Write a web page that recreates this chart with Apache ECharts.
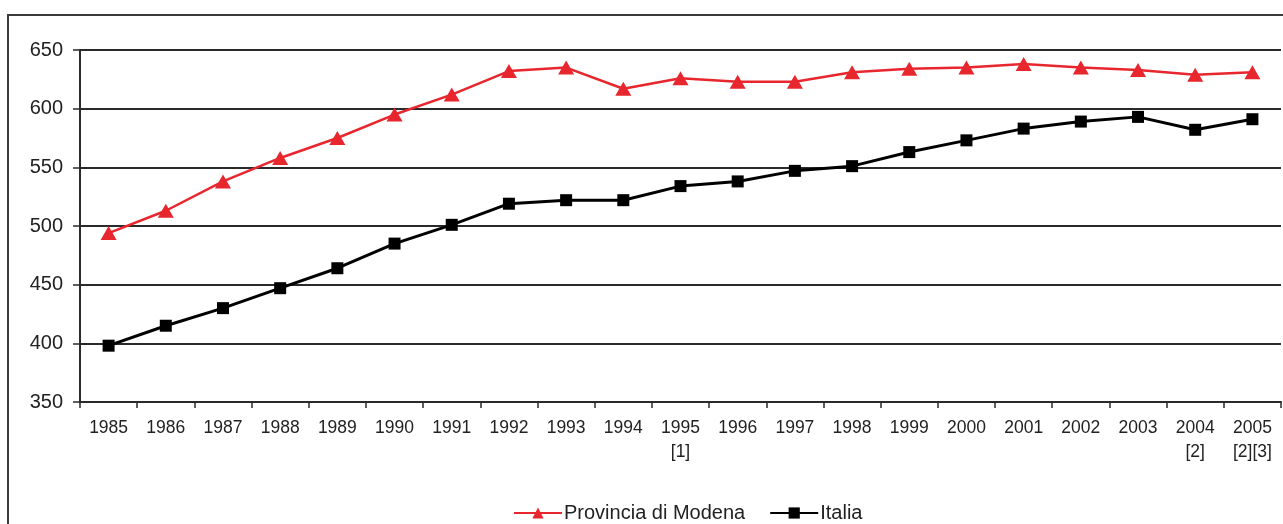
<!DOCTYPE html>
<html>
<head>
<meta charset="utf-8">
<script src="https://cdn.jsdelivr.net/npm/echarts@6/dist/echarts.min.js"></script>
<style>
html,body{margin:0;padding:0;background:#fff;}
#chart{width:1283px;height:524px;}
</style>
</head>
<body>
<div id="chart"></div>
<script>
const categories = ['1985','1986','1987','1988','1989','1990','1991','1992','1993','1994','1995\n[1]','1996','1997','1998','1999','2000','2001','2002','2003','2004\n[2]','2005\n[2][3]'];
const modena = [494,513,538,558,575,595,612,632,635,617,626,623,623,631,634,635,638,635,633,629,631];
const italia = [398,415,430,447,464,485,501,519,522,522,534,538,547,551,563,573,583,589,593,582,591];
const yTicks = [350,400,450,500,550,600,650];

const chart = echarts.init(document.getElementById('chart'), null, {renderer:'canvas'});
const font = 'Liberation Sans, Arial, sans-serif';
chart.setOption({
  animation:false,
  backgroundColor:'#fff',
  graphic:[{type:'rect',shape:{x:8,y:15,width:1300,height:540},style:{fill:'none',stroke:'#3a3a3a',lineWidth:2},silent:true}],
  grid:{left:80,top:50,right:2,bottom:122,containLabel:false},
  legend:{
    left:508, top:498,
    itemWidth:48, itemHeight:14, itemGap:24,
    textStyle:{fontFamily:font,fontSize:20,color:'#222',padding:[0,0,0,-3]},
    data:['Provincia di Modena','Italia']
  },
  xAxis:{
    type:'category', data:categories, boundaryGap:true,
    axisLine:{lineStyle:{color:'#2a2a2a',width:2}},
    axisTick:{show:true,length:6,lineStyle:{color:'#2a2a2a',width:1.5}},
    axisLabel:{fontFamily:font,fontSize:17.5,color:'#222',margin:14,lineHeight:24,interval:0}
  },
  yAxis:{
    type:'value', min:yTicks[0], max:yTicks[yTicks.length-1], interval:50,
    axisLine:{show:true,lineStyle:{color:'#2a2a2a',width:2}},
    axisTick:{show:true,length:7,lineStyle:{color:'#2a2a2a',width:1.5}},
    axisLabel:{fontFamily:font,fontSize:20,color:'#222',margin:17},
    splitLine:{show:true,lineStyle:{color:'#2a2a2a',width:1.8}}
  },
  series:[
    {name:'Provincia di Modena',type:'line',data:modena,symbol:'triangle',symbolSize:[16,14],
     itemStyle:{color:'#e8262d'},lineStyle:{color:'#e8262d',width:2.5}},
    {name:'Italia',type:'line',data:italia,symbol:'rect',symbolSize:12,
     itemStyle:{color:'#000'},lineStyle:{color:'#000',width:3}}
  ]
});
</script>
</body>
</html>
